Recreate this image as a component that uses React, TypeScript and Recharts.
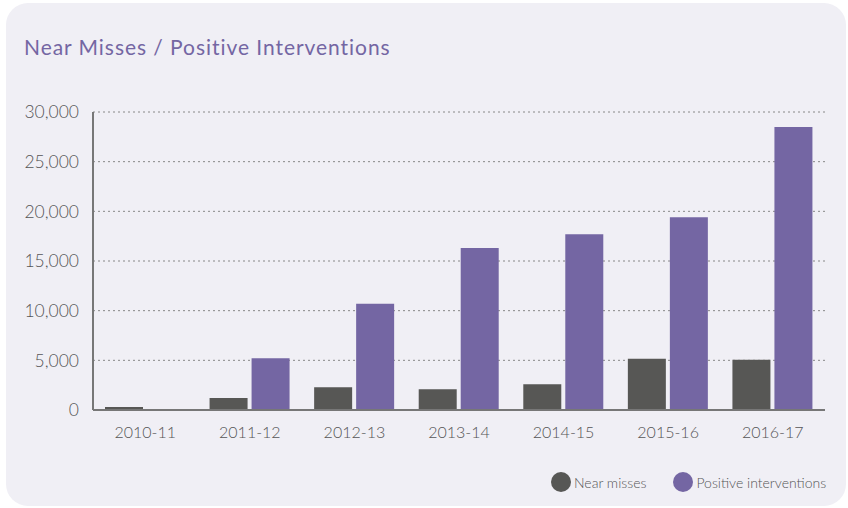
import React from 'react';
import { BarChart, Bar, XAxis, YAxis, CartesianGrid } from 'recharts';

const categories = ['2010-11', '2011-12', '2012-13', '2013-14', '2014-15', '2015-16', '2016-17'];
const nearMisses = [300, 1200, 2300, 2100, 2600, 5150, 5050];
const positiveInterventions = [0, 5200, 10700, 16300, 17700, 19400, 28500];
const yTicks = [0, 5000, 10000, 15000, 20000, 25000, 30000];

const data = categories.map((c, i) => ({
  name: c,
  near: nearMisses[i],
  positive: positiveInterventions[i],
}));

const FONT = 'Lato, "Noto Sans", sans-serif';
const DARK = '#575755';
const PURPLE = '#7466a3';

export default function App() {
  return (
    <div style={{ position: 'absolute', left: 0, top: 0, width: 848, height: 508, background: '#ffffff', overflow: 'hidden' }}>
      <div style={{ position: 'absolute', left: 6, top: 3, width: 840, height: 503, borderRadius: 22, background: '#f0eff5' }} />
      <div style={{ position: 'absolute', left: 24, top: 34, fontFamily: FONT, fontSize: 21, color: PURPLE, fontWeight: 400, letterSpacing: 0.95, whiteSpace: 'nowrap' }}>
        Near Misses / Positive Interventions
      </div>
      <div style={{ position: 'absolute', left: 0, top: 0 }}>
        <BarChart width={848} height={508} data={data} margin={{ top: 112, right: 23, bottom: 58, left: 0 }} barSize={38} barGap={4}>
          <CartesianGrid vertical={false} stroke="#888" strokeDasharray="2 3" horizontalValues={[5000, 10000, 15000, 20000, 25000, 30000]} />
          <XAxis
            dataKey="name"
            axisLine={{ stroke: '#777', strokeWidth: 2 }}
            tickLine={false}
            tick={{ fontFamily: FONT, fontSize: 16, fill: '#555', fontWeight: 300 }}
            tickMargin={11}
            height={40}
          />
          <YAxis
            domain={[0, 30000]}
            ticks={yTicks}
            width={93}
            axisLine={{ stroke: '#777', strokeWidth: 2 }}
            tickLine={false}
            tickMargin={8}
            tickFormatter={(v: number) => v.toLocaleString('en-US')}
            tick={{ fontFamily: FONT, fontSize: 17.5, fill: '#555', fontWeight: 300 }}
          />
          <YAxis
            yAxisId="r"
            orientation="right"
            domain={[0, 30000]}
            width={0}
            tick={false}
            tickLine={false}
            axisLine={{ stroke: '#777', strokeWidth: 2 }}
          />
          <Bar dataKey="near" name="Near misses" fill={DARK} isAnimationActive={false} />
          <Bar dataKey="positive" name="Positive interventions" fill={PURPLE} isAnimationActive={false} />
        </BarChart>
      </div>
      <div style={{ position: 'absolute', left: 551, top: 472, display: 'flex', alignItems: 'center', fontFamily: FONT, fontSize: 14, color: '#555', fontWeight: 300, whiteSpace: 'nowrap' }}>
        <span style={{ display: 'inline-block', width: 20, height: 20, borderRadius: 10, background: DARK, marginRight: 3 }} />
        <span style={{ marginRight: 27 }}>Near misses</span>
        <span style={{ display: 'inline-block', width: 20, height: 20, borderRadius: 10, background: PURPLE, marginRight: 3 }} />
        <span>Positive interventions</span>
      </div>
    </div>
  );
}
